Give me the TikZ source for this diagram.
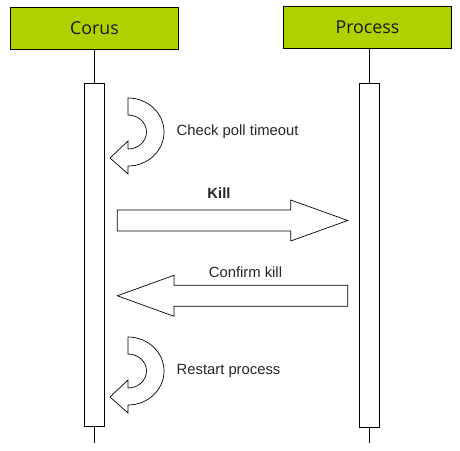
\documentclass[tikz,border=0pt]{standalone}
\usepackage{fontspec}
\setmainfont{Liberation Sans}
\newfontfamily\headfont{Open Sans}
\usetikzlibrary{positioning}
\definecolor{headgreen}{RGB}{176,208,0}

\begin{document}
\begin{tikzpicture}[x=1pt, y=1pt,
    headbox/.style={draw, line width=0.8pt, fill=headgreen, minimum width=168pt, minimum height=42pt,
        font=\headfont\fontsize{17.8}{20}\selectfont, text=black!90},
    actbar/.style={draw, line width=0.8pt, fill=white, minimum width=20pt},
    blockarrow/.style={draw, line width=0.7pt, fill=white},
    msg/.style={font=\fontsize{14.8}{17}\selectfont, text=black!85}]
    \useasboundingbox (0,0) rectangle (460,450);

    % Lifeline heads
    \node[headbox] (corus) at (94.5,422) {Corus};
    \node[headbox] (process) at (367.5,423) {Process};

    % Activation bars
    \node[actbar, minimum height=343.3pt] (corusbar) at (94.5,195.35) {};
    \node[actbar, minimum height=344.3pt] (processbar) at (369.3,194.85) {};

    % Lifelines
    \coordinate (corusend) at (94.5,7.3);
    \coordinate (processend) at (369.3,7.3);
    \draw[line width=0.8pt] (corus.south) -- (corusbar.north);
    \draw[line width=0.8pt] (corusbar.south) -- (corusend);
    \draw[line width=0.8pt] (processbar.north |- process.south) -- (processbar.north);
    \draw[line width=0.8pt] (processbar.south) -- (processend);

    % Self calls
    \foreach \dy/\txt/\name in {0/{Check poll timeout}/checkpoll, -239/{Restart process}/restart} {
        \begin{scope}[yshift=\dy]
            \draw[blockarrow] (128,352) arc[start angle=90, end angle=-90, x radius=36, y radius=34]
                -- (128,276) -- (110,292) -- (128,309) -- (128,301)
                arc[start angle=-90, end angle=90, x radius=18.5, y radius=17] -- cycle;
            \node[msg, right, inner sep=0pt] (\name) at (176.5,318) {\txt};
        \end{scope}
    }

    % Kill
    \draw[blockarrow] (117.3,240) -- (290.7,240) -- (290.7,250) -- (347.7,229.5)
        -- (290.7,209) -- (290.7,219) -- (117.3,219) -- cycle;
    \node[msg, font=\fontsize{14.8}{17}\selectfont\bfseries] (kill) at (219,257) {Kill};

    % Confirm kill
    \draw[blockarrow] (347.7,164.7) -- (174,164.7) -- (174,174.7) -- (117.3,154.2)
        -- (174,133.7) -- (174,143.7) -- (347.7,143.7) -- cycle;
    \node[msg] (confirm) at (245.5,178) {Confirm kill};
\end{tikzpicture}
\end{document}
